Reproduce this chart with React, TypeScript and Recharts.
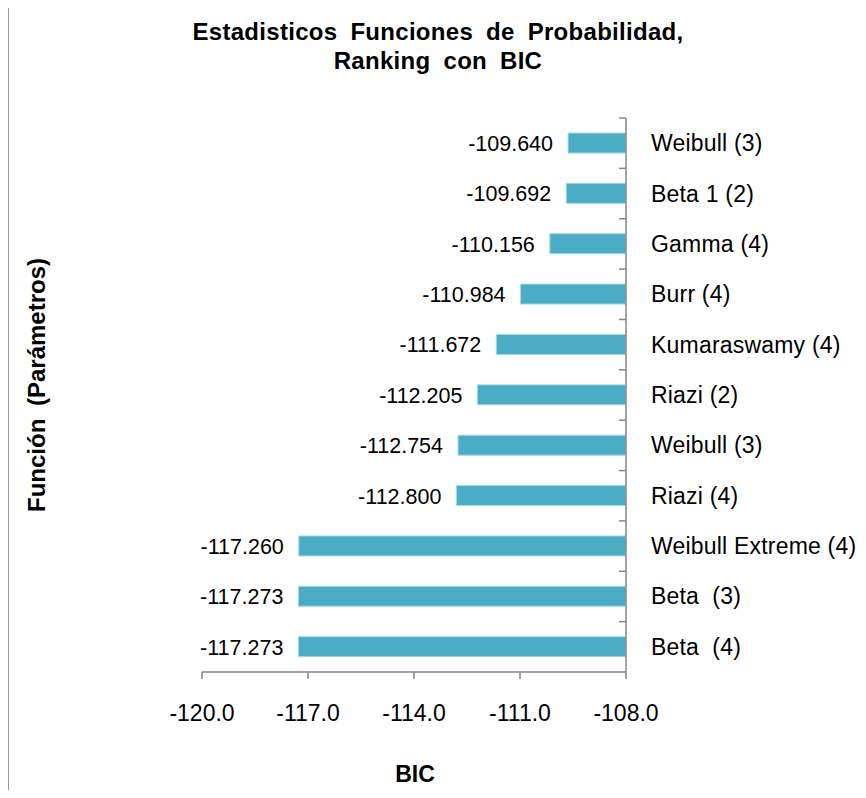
import { BarChart, Bar, XAxis, YAxis, LabelList } from 'recharts';

// Ranking de funciones de probabilidad por BIC (de arriba hacia abajo)
const funciones = [
  'Weibull (3)',
  'Beta 1 (2)',
  'Gamma (4)',
  'Burr (4)',
  'Kumaraswamy (4)',
  'Riazi (2)',
  'Weibull (3)',
  'Riazi (4)',
  'Weibull Extreme (4)',
  'Beta  (3)',
  'Beta  (4)',
];
const bic = [-109.64, -109.692, -110.156, -110.984, -111.672, -112.205, -112.754, -112.8, -117.26, -117.273, -117.273];
const bicTicks = [-120, -117, -114, -111, -108];

const data = funciones.map((nombre, i) => ({ idx: i, nombre, bic: bic[i] }));

const W = 866;
const H = 798;
const MARGIN = { top: 118, right: 40, bottom: 46, left: 202 };
const Y_AXIS_W = 200;
const X_AXIS_H = 80;
const PLOT_H = H - MARGIN.top - MARGIN.bottom - X_AXIS_H;
const BAND = PLOT_H / funciones.length;
const CAT_MARGIN = 25;

const AXIS_COLOR = '#868686';
const BAR_COLOR = '#4BACC6';
const FONT = '"Liberation Sans", Arial, sans-serif';

const CategoryTick = (props: any) => {
  const { x, y, payload } = props;
  const axisX = x - CAT_MARGIN;
  const top = y - BAND / 2;
  return (
    <g>
      <line x1={axisX - 7} x2={axisX} y1={top} y2={top} stroke={AXIS_COLOR} strokeWidth={1.5} />
      <text x={x} y={y + 8} fontSize={23} letterSpacing={0.2} fill="#000" fontFamily={FONT} style={{ whiteSpace: 'pre' }}>
        {funciones[payload.value]}
      </text>
    </g>
  );
};

const ValueLabel = (props: any) => {
  const { x, y, width, height, value } = props;
  const left = Math.min(x, x + width);
  return (
    <text x={left - 15} y={y + height / 2 + 8} textAnchor="end" fontSize={21.5} fill="#000" fontFamily={FONT}>
      {Number(value).toFixed(3)}
    </text>
  );
};

export default function App() {
  return (
    <div style={{ position: 'relative', width: W, height: H, margin: -8, background: '#fff', fontFamily: FONT, overflow: 'hidden' }}>
      <div
        style={{
          position: 'absolute',
          left: 7,
          top: 0,
          width: W,
          height: H + 10,
          borderLeft: '2px solid #9a9a9a',
          borderTop: '2px solid #9a9a9a',
        }}
      />
      <div
        style={{
          position: 'absolute',
          left: 0,
          width: 876,
          top: 17,
          textAlign: 'center',
          fontWeight: 'bold',
          fontSize: 24,
          wordSpacing: 6,
          letterSpacing: 0.3,
          lineHeight: '29px',
          color: '#000',
        }}
      >
        Estadisticos Funciones de Probabilidad,
        <br />
        Ranking con BIC
      </div>
      <div
        style={{
          position: 'absolute',
          left: 37,
          top: 385,
          transform: 'translate(-50%, -50%) rotate(-90deg)',
          whiteSpace: 'nowrap',
          fontWeight: 'bold',
          fontSize: 24,
          wordSpacing: 6,
          color: '#000',
        }}
      >
        Función (Parámetros)
      </div>
      <div
        style={{
          position: 'absolute',
          left: 415,
          top: 774,
          transform: 'translate(-50%, -50%)',
          fontWeight: 'bold',
          fontSize: 23,
          color: '#000',
        }}
      >
        BIC
      </div>
      <div style={{ position: 'absolute', left: 0, top: 0 }}>
        <BarChart width={W} height={H} data={data} layout="vertical" margin={MARGIN} barCategoryGap={0}>
          <XAxis
            type="number"
            domain={[-120, -108]}
            ticks={bicTicks}
            allowDataOverflow
            tickFormatter={(v: number) => v.toFixed(1)}
            stroke={AXIS_COLOR}
            strokeWidth={1.5}
            tickSize={7}
            tickMargin={26}
            height={X_AXIS_H}
            tick={{ fill: '#000', fontSize: 23, fontFamily: FONT }}
          />
          <YAxis
            type="category"
            dataKey="idx"
            orientation="right"
            width={Y_AXIS_W}
            stroke={AXIS_COLOR}
            strokeWidth={1.5}
            tickLine={false}
            tickSize={0}
            tickMargin={CAT_MARGIN}
            interval={0}
            tick={<CategoryTick />}
          />
          <Bar dataKey="bic" fill={BAR_COLOR} stroke="#a8d8e4" strokeWidth={1} barSize={20} isAnimationActive={false}>
            <LabelList dataKey="bic" content={<ValueLabel />} />
          </Bar>
        </BarChart>
      </div>
    </div>
  );
}
